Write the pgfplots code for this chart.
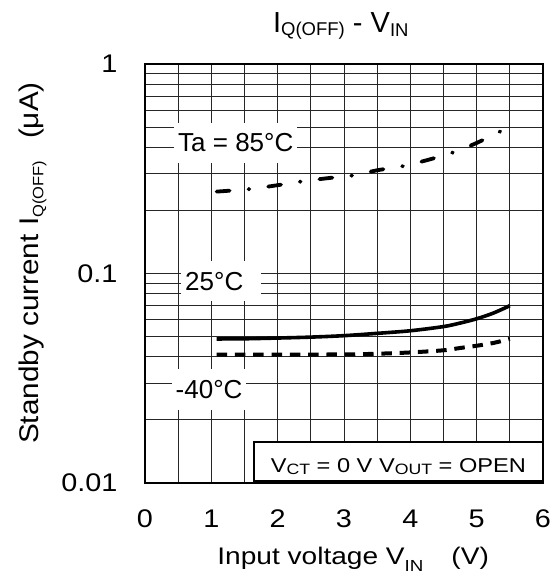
\documentclass[border=0pt]{standalone}
\usepackage{fontspec}
\setmainfont{Liberation Sans}
\newfontfamily\tickfont{Liberation Sans}[FakeStretch=1.13]
\newfontfamily\labfont{Liberation Sans}[FakeStretch=1.17]
\newfontfamily\ylabfont{Liberation Sans}[FakeStretch=1.1]
\newfontfamily\boxfont{Liberation Sans}[FakeStretch=1.18]
\usepackage{pgfplots}
\pgfplotsset{compat=1.18}

% subscript: size, drop, text
\newcommand\sub[3]{\raisebox{-#2}{\fontsize{#1}{#1}\selectfont #3}}

\begin{document}
\begin{tikzpicture}
\path (0,0) rectangle (558pt,576pt);
\begin{axis}[
    at={(145pt,93pt)}, anchor=south west,
    scale only axis, width=398pt, height=419pt,
    xmin=0, xmax=6, ymode=log, ymin=0.01, ymax=1,
    xtick={0,1,2,3,4,5,6}, xticklabels={0,1,2,3,4,5,6},
    minor xtick={0.5,1.5,2.5,3.5,4.5,5.5},
    ytick={0.01,0.1,1}, yticklabels={0.01,0.1,1},
    minor ytick={0.02,0.03,0.04,0.05,0.06,0.07,0.08,0.09,0.2,0.3,0.4,0.5,0.6,0.7,0.8,0.9},
    grid=both,
    major grid style={draw=black!85, line width=1pt},
    minor grid style={draw=black!85, line width=1pt},
    major tick length=0pt, minor tick length=0pt,
    axis line style={line width=1.1pt},
    tick label style={font=\tickfont\fontsize{25.5}{30}\selectfont},
    xticklabel style={yshift=-23pt},
    yticklabel style={xshift=-24pt},
    title={I\sub{18.5}{3pt}{Q(OFF)} - V\sub{18.5}{3.5pt}{IN}},
    xlabel={Input voltage V\sub{16}{7pt}{IN}\hspace{28pt}(V)},
    ylabel={Standby current I\sub{15}{5pt}{Q(OFF)}\hspace{22pt}(μA)},
    every axis title/.style={at={(rel axis cs:0.492,1.0747)}, anchor=base,
        font=\fontsize{29}{34}\selectfont},
    every axis x label/.style={at={(rel axis cs:0.523,-0.194)}, anchor=base,
        font=\labfont\fontsize{24}{28}\selectfont},
    every axis y label/.style={at={(rel axis cs:-0.268,0.525)}, rotate=90, anchor=base,
        font=\ylabfont\fontsize{27}{32}\selectfont},
]

% Ta = 85 C
\addplot[black, line width=3.8pt, line cap=round, smooth,
    dash pattern=on 13pt off 19pt on 0.8pt off 19pt] coordinates {
    (1.08,0.246) (1.58,0.253) (2.0,0.264) (2.36,0.275) (2.75,0.285)
    (3.14,0.294) (3.5,0.311) (3.9,0.326) (4.3,0.351) (4.66,0.38)
    (5.0,0.42) (5.37,0.479) (5.5,0.50)};

% 25 C
\addplot[black, line width=3.6pt, smooth] coordinates {
    (1.08,0.0487) (1.5,0.0488) (2.0,0.0492) (2.5,0.0497) (3.0,0.0505)
    (3.5,0.0518) (4.0,0.0533) (4.5,0.0558) (4.75,0.058) (5.0,0.0608)
    (5.25,0.0647) (5.5,0.0702)};

% -40 C
\addplot[black, line width=4pt, smooth, dash pattern=on 10.5pt off 7.8pt] coordinates {
    (1.08,0.041) (2.0,0.041) (3.0,0.0411) (3.5,0.0414) (4.0,0.042)
    (4.5,0.043) (4.75,0.0441) (5.0,0.0452) (5.25,0.0466) (5.5,0.0487)};

\node[fill=white, inner xsep=4pt, inner ysep=11pt, anchor=base west,
    font=\fontsize{26}{30}\selectfont] at (axis cs:0.437,0.3814) {Ta = 85°C};
\node[fill=white, inner xsep=4pt, inner ysep=11pt, anchor=base west,
    font=\fontsize{26}{30}\selectfont] at (axis cs:0.543,0.0834) {25°C\hspace*{14pt}};
\node[fill=white, inner xsep=4pt, inner ysep=11pt, anchor=base west,
    font=\fontsize{26}{30}\selectfont] at (axis cs:0.40,0.02536) {-40°C};

\draw[fill=white, line width=1.8pt] (axis cs:1.643,0.01574) rectangle (axis cs:5.995,0.01026);
\node[anchor=base, font=\boxfont\fontsize{20}{24}\selectfont] at (axis cs:3.82,0.0112)
    {V\sub{15}{1.5pt}{CT} = 0 V V\sub{15}{1.5pt}{OUT} = OPEN};
\end{axis}
\end{tikzpicture}
\end{document}
